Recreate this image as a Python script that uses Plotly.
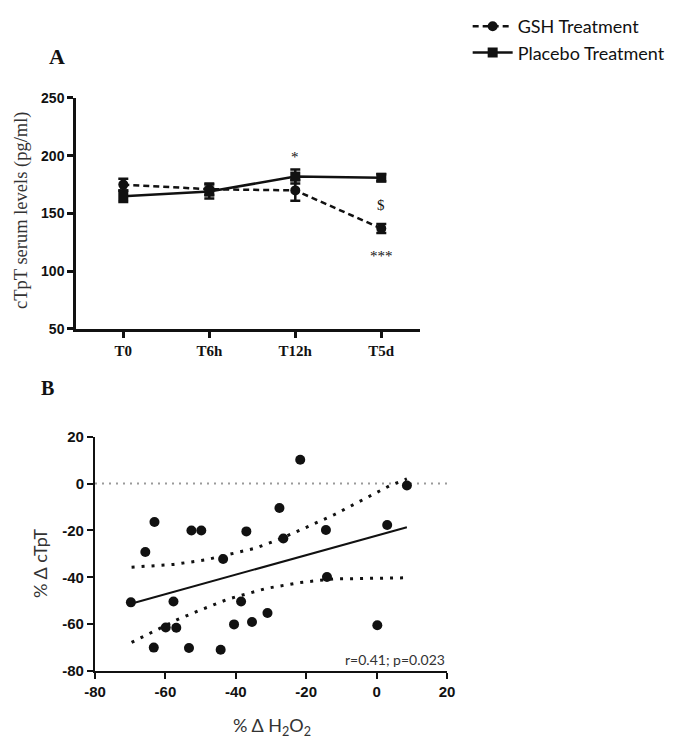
import plotly.graph_objects as go

# Panel A: cTpT serum levels over time
timepoints = ["T0", "T6h", "T12h", "T5d"]
gsh_mean = [175, 171, 170, 137]
gsh_err = [5, 5, 9, 4]
placebo_mean = [165, 169, 182, 181]
placebo_err = [5, 6, 6, 3]

# Panel B: % change H2O2 vs % change cTpT
h2o2_change = [-69.8, -65.7, -63.1, -63.3, -59.9, -56.9, -57.7, -52.6, -49.8, -53.3,
               -43.6, -44.3, -40.5, -38.5, -37.0, -35.4, -31.0, -27.6, -26.5, -21.7,
               -14.4, -14.1, 0.2, 3.0, 8.6]
ctpt_change = [-50.7, -29.2, -16.4, -70.0, -61.4, -61.5, -50.3, -20.0, -20.0, -70.2,
               -32.2, -70.9, -60.1, -50.3, -20.4, -59.1, -55.2, -10.4, -23.4, 10.2,
               -19.8, -39.9, -60.5, -17.7, -0.8]

fit_x = [-69.8, 8.6]
fit_y = [-51.3, -18.6]

upper_x = [-69.6, -57.7, -48.7, -40.2, -34.5, -28.8, -23.1, -12.2, -7.0, -1.8, 3.7, 8.6]
upper_y = [-35.7, -34.5, -32.6, -29.8, -27.6, -24.4, -20.8, -13.4, -9.2, -5.2, -0.9, 2.0]
lower_x = [-69.6, -63.9, -56.8, -50.6, -45.4, -42.2, -31.2, -25.5, -21.7, -12.2, -2.7, 8.6]
lower_y = [-67.8, -63.6, -58.2, -54.3, -51.1, -49.3, -44.7, -43.3, -42.2, -40.7, -40.4, -40.2]

b_ticks = [-80, -60, -40, -20, 0, 20]
b_ticklabels = ["-80", "-60", "-40", "-20", "0", "20"]

ink = "#111111"
serif = "Liberation Serif"
sans = "Liberation Sans"

fig = go.Figure()

fig.add_trace(go.Scatter(
    x=timepoints, y=gsh_mean, name="GSH Treatment",
    mode="lines+markers",
    line=dict(color=ink, width=2.5, dash="6px,4px"),
    marker=dict(symbol="circle", size=10, color=ink),
    error_y=dict(type="data", array=gsh_err, color=ink, thickness=2.5, width=5),
    xaxis="x", yaxis="y",
))
fig.add_trace(go.Scatter(
    x=timepoints, y=placebo_mean, name="Placebo Treatment",
    mode="lines+markers",
    line=dict(color=ink, width=2.5),
    marker=dict(symbol="square", size=10, color=ink),
    error_y=dict(type="data", array=placebo_err, color=ink, thickness=2.5, width=5),
    xaxis="x", yaxis="y",
))

fig.add_trace(go.Scatter(
    x=[-80, 20.5], y=[0, 0], mode="lines", showlegend=False,
    line=dict(color="#9a9a9a", width=2, dash="2px,5px"),
    xaxis="x2", yaxis="y2", cliponaxis=False,
))
fig.add_trace(go.Scatter(
    x=upper_x, y=upper_y, mode="lines", showlegend=False,
    line=dict(color=ink, width=3, dash="3px,7px"),
    xaxis="x2", yaxis="y2",
))
fig.add_trace(go.Scatter(
    x=lower_x, y=lower_y, mode="lines", showlegend=False,
    line=dict(color=ink, width=3, dash="3px,7px"),
    xaxis="x2", yaxis="y2",
))
fig.add_trace(go.Scatter(
    x=fit_x, y=fit_y, mode="lines", showlegend=False,
    line=dict(color=ink, width=2),
    xaxis="x2", yaxis="y2",
))
fig.add_trace(go.Scatter(
    x=h2o2_change, y=ctpt_change, mode="markers", showlegend=False,
    marker=dict(color=ink, size=10),
    xaxis="x2", yaxis="y2",
))

axis_common = dict(
    showline=True, linecolor=ink, showgrid=False, zeroline=False,
    ticks="outside", tickcolor=ink, ticklen=6, automargin=False,
)

# the page body adds an 8px margin, so the figure is 666x731
fig.update_layout(
    width=666, height=731,
    margin=dict(l=0, r=0, t=0, b=0),
    paper_bgcolor="white", plot_bgcolor="white",
    xaxis=dict(
        domain=[0.1021, 0.6186], anchor="y", type="category",
        range=[-0.55, 3.45], linewidth=2.5, tickwidth=2.5,
        tickfont=dict(family=serif, size=15, color=ink, weight="bold"),
        **axis_common,
    ),
    yaxis=dict(
        domain=[0.5609, 0.8769], anchor="x", range=[50, 250],
        tickvals=[50, 100, 150, 200, 250], linewidth=2.5, tickwidth=2.5,
        tickfont=dict(family=sans, size=14, color=ink, weight="bold"),
        **axis_common,
    ),
    xaxis2=dict(
        domain=[0.1306, 0.6592], anchor="y2", range=[-80, 20],
        tickvals=b_ticks, ticktext=b_ticklabels, linewidth=2, tickwidth=2,
        tickfont=dict(family=sans, size=15, color=ink, weight="bold"),
        **axis_common,
    ),
    yaxis2=dict(
        domain=[0.0930, 0.4135], anchor="x2", range=[-80, 20],
        tickvals=b_ticks, ticktext=b_ticklabels, linewidth=2, tickwidth=2,
        tickfont=dict(family=sans, size=15, color=ink, weight="bold"),
        **axis_common,
    ),
    legend=dict(
        x=0.995, y=1.0, xanchor="right", yanchor="top",
        font=dict(family="Lato", size=18, color=ink),
        bgcolor="rgba(0,0,0,0)", tracegroupgap=0, itemwidth=40,
    ),
    showlegend=True,
)

annotations = [
    dict(text="A", x=0.0736, y=0.933, xref="paper", yref="paper", showarrow=False,
         xanchor="center", yanchor="middle",
         font=dict(family=serif, size=22, color=ink, weight="bold")),
    dict(text="B", x=0.0593, y=0.4802, xref="paper", yref="paper", showarrow=False,
         xanchor="center", yanchor="middle",
         font=dict(family=serif, size=20, color=ink, weight="bold")),
    # axis titles
    dict(text="cTpT serum levels (pg/ml)", x=0.021, y=0.7237, xref="paper", yref="paper",
         textangle=-90, showarrow=False, xanchor="center", yanchor="middle",
         font=dict(family=serif, size=18.5, color="#333333")),
    dict(text="% Δ cTpT", x=0.048, y=0.2408, xref="paper", yref="paper",
         textangle=-90, showarrow=False, xanchor="center", yanchor="middle",
         font=dict(family="Lato", size=18, color="#333333")),
    dict(text="% Δ H<sub>2</sub>O<sub>2</sub>", x=0.3964, y=0.017, xref="paper", yref="paper",
         showarrow=False, xanchor="center", yanchor="middle",
         font=dict(family="Lato", size=18, color="#333333")),
    # significance marks
    dict(text="*", x="T12h", y=199, xref="x", yref="y", showarrow=False,
         font=dict(family=serif, size=15, color=ink)),
    dict(text="$", x="T5d", y=157, xref="x", yref="y", showarrow=False,
         font=dict(family=serif, size=15, color=ink)),
    dict(text="***", x="T5d", y=113, xref="x", yref="y", showarrow=False,
         font=dict(family=serif, size=15, color=ink)),
    dict(text="r=0.41; p=0.023", x=20, y=-80, xref="x2", yref="y2",
         xanchor="right", yanchor="bottom", showarrow=False, yshift=1,
         font=dict(family="Lato", size=14, color="#333333")),
]
fig.update_layout(annotations=annotations)

fig.write_html("out.html")
